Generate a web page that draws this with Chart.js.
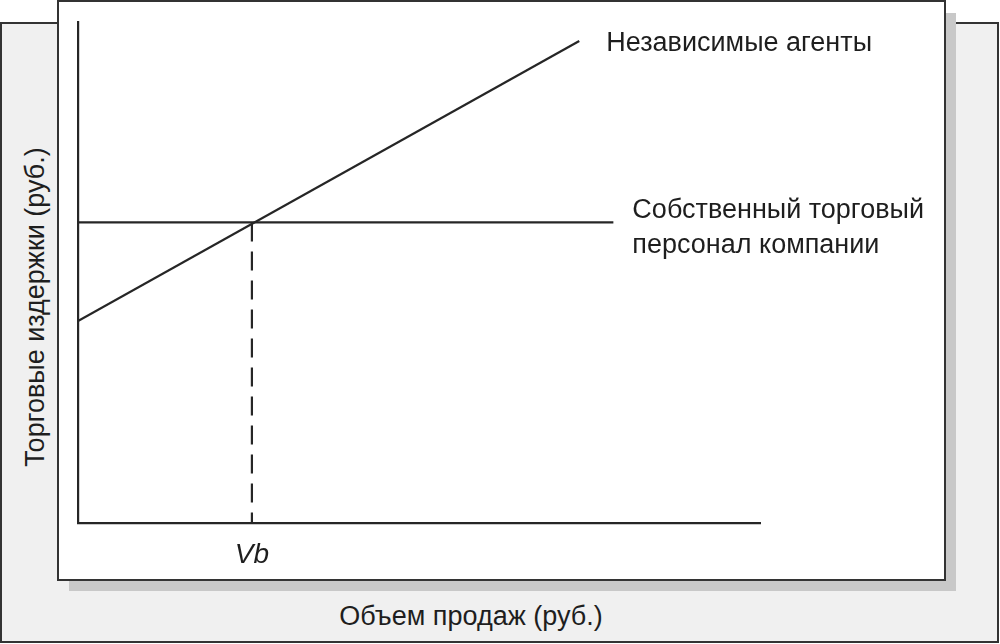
<!DOCTYPE html>
<html lang="ru">
<head>
    <meta charset="UTF-8">
    <title>Торговые издержки</title>
    <style>
        body {
            margin: 0;
            width: 1000px;
            height: 644px;
            position: relative;
            overflow: hidden;
            background: #fff;
            font-family: "Liberation Sans", Arial, sans-serif;
            color: #1e1e1e;
        }
        .back {
            position: absolute;
            box-sizing: border-box;
            left: 0; top: 22px; width: 999px; height: 621px;
            background: #f0f0f0;
            border: 2px solid #333;
        }
        .shadow {
            position: absolute;
            left: 69px; top: 13px; width: 887px; height: 578px;
            background: #c8c8c8;
        }
        .panel {
            position: absolute;
            box-sizing: border-box;
            left: 57px; top: 0; width: 889px; height: 581px;
            background: #fff;
            border: 2px solid #333;
        }
        .axis-title {
            position: absolute;
            font-size: 27px;
            line-height: 27px;
            white-space: nowrap;
        }
        #xTitle { left: 471px; top: 603px; transform: translateX(-50%); }
        #yTitle { left: 35px; top: 307px; transform: translate(-50%, -50%) rotate(-90deg); }
        canvas { position: absolute; left: 0; top: 0; }
    </style>
</head>
<body>
    <div class="back"></div>
    <div class="shadow"></div>
    <div class="panel"></div>
    <div class="axis-title" id="xTitle">Объем продаж (руб.)</div>
    <div class="axis-title" id="yTitle">Торговые издержки (руб.)</div>
    <canvas id="costChart" width="1000" height="644"></canvas>

    <script src="https://cdn.jsdelivr.net/npm/chart.js"></script>
    <script>
        // values (both axes run 0..100, no units shown)
        const agentVolume = [0, 73.5];
        const agentCost = [40.3, 96.2];
        const staffVolume = [0, 78.5];
        const staffCost = [60, 60];
        const breakEvenVolume = [25.5, 25.5];
        const breakEvenCost = [60, 0];
        const xTickValues = [25.5];
        const xTickLabels = ['Vb'];
        const seriesNames = [['Независимые агенты'], ['Собственный торговый', 'персонал компании']];

        const ink = '#262626';

        function points(xs, ys) {
            return xs.map((x, i) => ({ x: x, y: ys[i] }));
        }

        // writes the series name next to the end of its line
        const endLabels = {
            id: 'endLabels',
            afterDatasetsDraw(chart) {
                const ctx = chart.ctx;
                const offsets = [{ dx: 27, dy: [3] }, { dx: 19, dy: [-12, 23] }];
                ctx.save();
                ctx.font = '27px "Liberation Sans", Arial, sans-serif';
                ctx.fillStyle = '#1e1e1e';
                ctx.textBaseline = 'middle';
                ctx.textAlign = 'left';
                seriesNames.forEach((lines, i) => {
                    const pts = chart.getDatasetMeta(i).data;
                    const end = pts[pts.length - 1];
                    lines.forEach((line, j) => {
                        ctx.fillText(line, end.x + offsets[i].dx, end.y + offsets[i].dy[j]);
                    });
                });
                ctx.restore();
            }
        };

        const ctx = document.getElementById('costChart').getContext('2d');
        const costChart = new Chart(ctx, {
            type: 'line',
            data: {
                datasets: [
                    { label: seriesNames[0].join(' '), data: points(agentVolume, agentCost) },
                    { label: seriesNames[1].join(' '), data: points(staffVolume, staffCost) },
                    { label: 'Vb', data: points(breakEvenVolume, breakEvenCost), borderDash: [19, 10] }
                ]
            },
            options: {
                responsive: false,
                animation: false,
                layout: { padding: { left: 78, top: 22, right: 240, bottom: 0 } },
                elements: {
                    line: { borderColor: ink, borderWidth: 2.2, tension: 0, fill: false },
                    point: { radius: 0, hoverRadius: 0 }
                },
                plugins: {
                    legend: { display: false },
                    tooltip: { enabled: false }
                },
                scales: {
                    x: {
                        type: 'linear',
                        min: 0,
                        max: 100,
                        grid: { display: false, drawTicks: false },
                        border: { display: true, color: ink, width: 2.2 },
                        afterBuildTicks: axis => { axis.ticks = xTickValues.map(v => ({ value: v })); },
                        afterFit: axis => { axis.height = 121; },
                        ticks: {
                            callback: (value, index) => xTickLabels[index],
                            color: '#1e1e1e',
                            padding: 15,
                            maxRotation: 0,
                            autoSkip: false,
                            font: { family: '"Liberation Sans", Arial, sans-serif', size: 28, style: 'italic' }
                        }
                    },
                    y: {
                        type: 'linear',
                        min: 0,
                        max: 100,
                        grid: { display: false, drawTicks: false },
                        border: { display: true, color: ink, width: 2.2 },
                        afterFit: axis => { axis.width = 0; },
                        ticks: { display: false }
                    }
                }
            },
            plugins: [endLabels]
        });
    </script>
</body>
</html>
